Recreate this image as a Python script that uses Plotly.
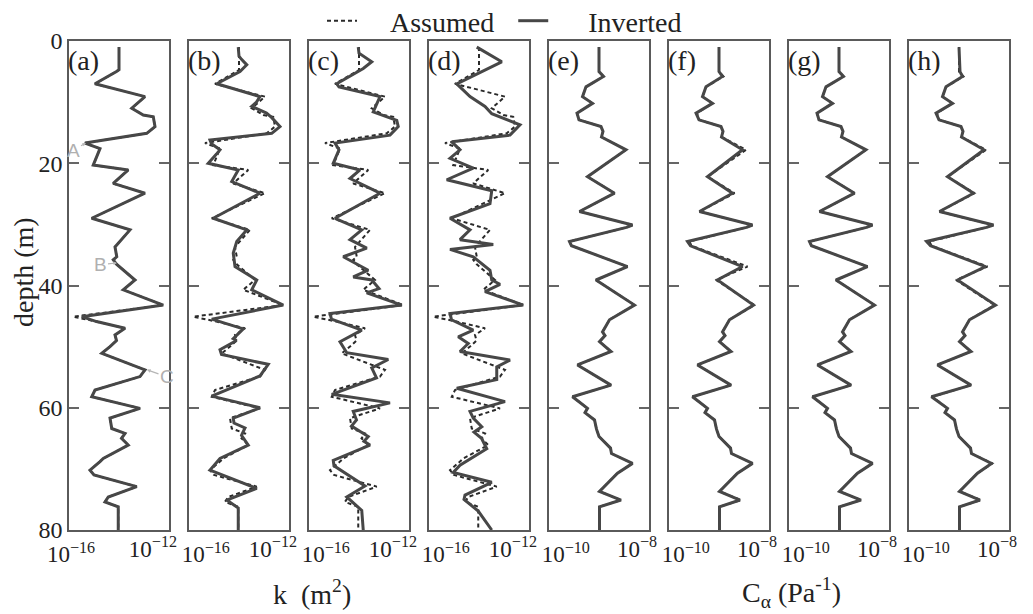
import numpy as np
import plotly.graph_objects as go

# ---------------- data (log10 values) ----------------
# permeability k (m^2): assumed profile (same for panels a-d)
depth_k_assumed = [1.0, 4.7, 5.0, 7.0, 9.1, 11.0, 12.1, 12.4, 14.0, 15.1, 16.7, 17.6, 20.3, 21.1, 23.3, 24.9,
                   29.0, 30.9, 33.7, 35.3, 35.8, 36.5, 39.1, 40.7, 43.2, 45.1, 45.9, 47.0, 48.1, 49.0, 50.0,
                   51.1, 51.4, 53.8, 54.9, 57.1, 58.2, 60.1, 61.7, 63.4, 64.2, 65.0, 66.1, 68.3, 68.8, 70.2,
                   71.0, 72.9, 74.6, 75.4, 76.2, 80.0]
log10_k_assumed = [-14.0, -14.0, -14.1, -14.96, -12.96, -13.49, -13.03, -12.63, -12.56, -12.89, -15.36, -14.76,
                   -15.03, -13.63, -14.23, -12.96, -15.09, -13.56, -14.16, -14.09, -14.23, -14.1, -13.36, -13.83,
                   -12.23, -15.83, -14.9, -13.76, -14.16, -14.1, -14.36, -14.69, -14.5, -12.96, -13.16, -14.96,
                   -15.09, -13.16, -14.36, -14.29, -13.76, -13.9, -13.63, -14.63, -14.76, -15.16, -15.0, -13.29,
                   -14.43, -14.56, -14.03, -14.03]

# inverted k, panel (a)
depth_k_inv_a = depth_k_assumed
log10_k_inv_a = [-14.0, -14.0, -14.1, -14.96, -12.96, -13.49, -13.03, -12.63, -12.56, -12.89, -15.36, -14.76,
                 -15.03, -13.63, -14.23, -12.96, -15.09, -13.56, -14.16, -14.09, -14.23, -14.1, -13.36, -13.83,
                 -12.23, -15.49, -14.9, -13.76, -14.16, -14.1, -14.36, -14.69, -14.5, -12.96, -13.16, -14.96,
                 -15.09, -13.16, -14.36, -14.29, -13.76, -13.9, -13.63, -14.63, -14.76, -15.16, -15.0, -13.29,
                 -14.43, -14.56, -14.03, -14.03]

# inverted k, panel (b)
depth_k_inv_b = [1.0, 2.5, 3.0, 3.9, 5.0, 7.0, 9.1, 10.0, 10.7, 11.8, 12.5, 14.0, 15.1, 16.2, 16.8, 17.8, 18.5,
                 20.0, 21.1, 23.0, 24.9, 29.0, 30.9, 32.8, 34.7, 36.9, 39.1, 40.7, 43.2, 45.5, 47.1, 48.7, 49.0,
                 50.5, 51.3, 52.9, 54.8, 58.1, 60.0, 61.7, 62.5, 63.3, 64.5, 66.1, 68.3, 70.2, 73.2, 75.1, 76.4,
                 80.0]
log10_k_inv_b = [-14.03, -14.0, -13.9, -13.69, -13.96, -14.89, -13.16, -13.3, -13.49, -12.9, -12.7, -12.36,
                 -12.69, -15.16, -15.1, -14.76, -14.9, -15.23, -14.03, -14.29, -13.16, -15.03, -13.69, -14.09,
                 -14.23, -14.16, -13.29, -13.49, -12.23, -15.09, -13.83, -14.23, -14.1, -14.76, -14.7, -12.83,
                 -13.16, -15.09, -13.16, -14.23, -14.2, -13.76, -13.9, -13.63, -14.76, -15.16, -13.29, -14.49,
                 -14.03, -14.03]

# inverted k, panel (c)
depth_k_inv_c = [1.0, 2.0, 3.4, 4.5, 7.0, 7.5, 9.1, 11.6, 13.0, 14.0, 15.4, 16.7, 17.8, 20.0, 21.1, 22.5, 24.9,
                 29.0, 30.9, 32.5, 33.9, 35.3, 37.5, 38.6, 39.1, 40.5, 41.2, 43.2, 44.6, 45.5, 47.3, 49.2, 51.0,
                 52.1, 53.5, 55.1, 57.8, 59.2, 60.6, 62.0, 63.0, 64.7, 65.5, 66.1, 68.6, 69.5, 72.8, 74.6, 76.8,
                 80.0]
log10_k_inv_c = [-14.03, -14.0, -13.49, -13.83, -14.89, -14.8, -13.16, -13.43, -12.49, -12.43, -12.76, -14.96,
                 -14.8, -15.03, -13.96, -14.36, -13.16, -14.96, -13.89, -14.36, -13.69, -14.63, -13.63, -14.23,
                 -13.49, -13.2, -13.69, -12.29, -15.16, -15.1, -13.89, -14.76, -14.49, -12.83, -13.49, -13.3,
                 -15.09, -12.76, -14.23, -14.1, -14.3, -13.63, -13.8, -13.56, -15.03, -15.0, -13.76, -14.49,
                 -13.89, -13.83]

# inverted k, panel (d)
depth_k_inv_d = [1.0, 3.4, 7.0, 9.1, 10.7, 11.9, 13.7, 15.4, 16.5, 17.8, 19.2, 20.8, 22.7, 24.5, 26.6, 29.0,
                 30.9, 32.5, 33.3, 34.1, 35.3, 37.5, 39.1, 39.8, 41.0, 43.2, 44.6, 45.6, 47.3, 48.4, 49.5, 50.8,
                 52.2, 53.3, 55.4, 56.8, 59.0, 60.6, 61.7, 63.1, 64.0, 65.0, 66.7, 69.4, 70.6, 72.2, 74.3, 75.0,
                 76.9, 80.0]
log10_k_inv_d = [-14.09, -13.09, -14.89, -14.36, -13.76, -13.49, -12.36, -12.76, -15.09, -14.76, -15.16, -14.23,
                 -15.29, -13.49, -13.56, -15.16, -14.36, -14.76, -13.43, -15.16, -14.23, -13.56, -13.49, -13.16,
                 -13.76, -12.23, -15.16, -15.1, -14.23, -14.83, -14.43, -14.76, -12.76, -13.29, -13.29, -14.89,
                 -12.96, -14.36, -14.23, -13.89, -14.2, -13.9, -13.69, -14.76, -15.03, -13.49, -14.56, -14.6,
                 -14.03, -13.49]

# compressibility C_alpha (Pa^-1): assumed profile (same for panels e-h)
depth_ca = [1.0, 5.0, 5.8, 7.5, 9.1, 10.2, 11.8, 12.9, 14.0, 14.8, 15.7, 17.8, 22.2, 24.9, 27.9, 30.1, 30.5,
            32.8, 33.5, 36.9, 39.1, 43.2, 45.6, 47.6, 48.2, 49.2, 50.8, 53.0, 56.3, 58.2, 60.1, 60.8, 62.0,
            63.5, 64.7, 66.6, 67.5, 69.1, 70.7, 71.8, 73.7, 75.1, 76.2, 80.0]
log10_ca_assumed = [-9.0, -9.0, -8.91, -9.26, -9.33, -9.13, -9.44, -9.4, -8.96, -8.92, -8.95, -8.46, -9.23,
                    -8.69, -9.39, -8.33, -8.45, -9.59, -9.55, -8.43, -9.06, -8.29, -8.79, -8.93, -8.88, -8.99,
                    -8.76, -9.43, -8.76, -9.53, -9.23, -9.28, -9.09, -9.05, -9.0, -8.77, -8.75, -8.33, -8.63,
                    -8.76, -8.99, -8.56, -8.99, -8.99]
log10_ca_inv_e = log10_ca_assumed
log10_ca_inv_f = [-9.0, -9.0, -8.93, -9.26, -9.33, -9.13, -9.46, -9.4, -8.96, -8.92, -8.95, -8.53, -9.23,
                  -8.73, -9.39, -8.33, -8.45, -9.63, -9.57, -8.53, -9.03, -8.31, -8.79, -8.93, -8.88, -8.99,
                  -8.76, -9.43, -8.76, -9.53, -9.23, -9.28, -9.09, -9.05, -9.0, -8.77, -8.75, -8.33, -8.63,
                  -8.76, -8.99, -8.58, -8.99, -8.99]
log10_ca_inv_g = log10_ca_assumed
log10_ca_inv_h = [-9.0, -8.98, -8.93, -9.26, -9.33, -9.13, -9.46, -9.4, -8.96, -8.92, -8.95, -8.5, -9.23,
                  -8.71, -9.39, -8.31, -8.45, -9.65, -9.57, -8.47, -9.03, -8.27, -8.79, -8.93, -8.88, -8.99,
                  -8.76, -9.43, -8.76, -9.55, -9.23, -9.28, -9.09, -9.05, -9.0, -8.77, -8.75, -8.35, -8.63,
                  -8.76, -8.99, -8.58, -8.99, -8.99]

panel_letters = ["(a)", "(b)", "(c)", "(d)", "(e)", "(f)", "(g)", "(h)"]
k_range_log = [-16, -12]
ca_range_log = [-10, -8]
k_tick_text = ["10<sup>−16</sup>", "10<sup>−12</sup>"]
ca_tick_text = ["10<sup>−10</sup>", "10<sup>−8</sup>"]
depth_ticks = [0, 20, 40, 60, 80]

# ---------------- figure ----------------
OFF = 8                      # page body margin of the html page
W, H = 1033 - OFF, 614 - OFF
FONT = "Liberation Serif"
C_INV = "#474747"
C_ASM = "#2a2a2a"
C_FRAME = "#5a5a5a"


def fx(px):
    return (px - OFF) / W


def fy(py):
    return 1 - (py - OFF) / H


panels = [
    (depth_k_assumed, log10_k_assumed, depth_k_inv_a, log10_k_inv_a, k_range_log, k_tick_text),
    (depth_k_assumed, log10_k_assumed, depth_k_inv_b, log10_k_inv_b, k_range_log, k_tick_text),
    (depth_k_assumed, log10_k_assumed, depth_k_inv_c, log10_k_inv_c, k_range_log, k_tick_text),
    (depth_k_assumed, log10_k_assumed, depth_k_inv_d, log10_k_inv_d, k_range_log, k_tick_text),
    (depth_ca, log10_ca_assumed, depth_ca, log10_ca_inv_e, ca_range_log, ca_tick_text),
    (depth_ca, log10_ca_assumed, depth_ca, log10_ca_inv_f, ca_range_log, ca_tick_text),
    (depth_ca, log10_ca_assumed, depth_ca, log10_ca_inv_g, ca_range_log, ca_tick_text),
    (depth_ca, log10_ca_assumed, depth_ca, log10_ca_inv_h, ca_range_log, ca_tick_text),
]

fig = go.Figure()
layout = {}
annotations = []
y_dom = [fy(530), fy(41)]
tickfont = dict(family=FONT, size=23, color="#222")

for i, (da, va, di, vi, rng, ttext) in enumerate(panels):
    n = i + 1
    sfx = "" if n == 1 else str(n)
    xa, ya = "x" + sfx, "y" + sfx
    xo = "x" + str(n + 8)          # overlay axis carrying the right-hand tick label
    fig.add_trace(go.Scatter(
        x=10 ** np.array(va), y=da, mode="lines", name="\u00a0" * 4 + "Assumed" + "\u00a0" * 2,
        line=dict(color=C_ASM, width=2, dash="4px,3px"),
        xaxis=xa, yaxis=ya, showlegend=(n == 1), legendgroup="asm"))
    fig.add_trace(go.Scatter(
        x=10 ** np.array(vi), y=di, mode="lines", name="\u00a0" * 5 + "Inverted",
        line=dict(color=C_INV, width=3),
        xaxis=xa, yaxis=ya, showlegend=(n == 1), legendgroup="inv"))
    # same inverted profile, fully transparent, so the overlay axis is drawn
    fig.add_trace(go.Scatter(
        x=10 ** np.array(vi), y=di, mode="lines", line=dict(color=C_INV, width=1), opacity=0,
        xaxis=xo, yaxis=ya, showlegend=False, hoverinfo="skip"))

    left = 69 + 120 * i
    dom = [fx(left), fx(left + 100)]
    layout["xaxis" + sfx] = dict(
        type="log", range=rng, domain=dom, anchor=ya, automargin=False,
        showline=True, mirror=True, linecolor=C_FRAME, linewidth=1.5,
        showgrid=False, zeroline=False, ticks="", ticklabeloverflow="allow",
        tickmode="array", tickvals=[10 ** rng[0]], ticktext=[ttext[0]],
        ticklabelposition="outside" if n == 1 else "outside right",
        ticklabelshift=2 if n == 1 else -8, ticklabelstandoff=3,
        tickfont=tickfont)
    layout["xaxis" + str(n + 8)] = dict(
        type="log", range=rng, overlaying=xa, anchor=ya, side="bottom", automargin=False,
        showline=False, showgrid=False, zeroline=False, ticks="", ticklabeloverflow="allow",
        tickmode="array", tickvals=[10 ** rng[1]], ticktext=[ttext[1]],
        ticklabelposition="outside left", ticklabelshift=8, ticklabelstandoff=3,
        tickfont=tickfont)
    layout["yaxis" + sfx] = dict(
        range=[80, 0], domain=y_dom, anchor=xa, automargin=False,
        showline=True, mirror="ticks", linecolor=C_FRAME, linewidth=1.5,
        showgrid=False, zeroline=False, ticklabeloverflow="allow",
        ticks="inside", ticklen=10, tickwidth=1.5, tickcolor="#666",
        tickmode="array", tickvals=depth_ticks,
        showticklabels=(n == 1), tickfont=dict(family=FONT, size=24, color="#222"))
    annotations.append(dict(
        text=panel_letters[i], xref=xa + " domain", yref=ya + " domain",
        x=0, y=1, xanchor="left", yanchor="top", xshift=-3, yshift=-2,
        showarrow=False, font=dict(family=FONT, size=28, color="#222")))

# A, B, C markers in panel (a)
for txt, hx, hy, ax, ay in [("A", -15.32, 16.7, -13, 7), ("B", -14.08, 36.3, -17, 2), ("C", -12.88, 53.8, 20, 7)]:
    annotations.append(dict(
        text=txt, xref="x", yref="y", x=hx, y=hy, ax=ax, ay=ay, axref="pixel", ayref="pixel",
        showarrow=True, arrowhead=2, arrowsize=0.6, arrowwidth=1.2, arrowcolor="#b5b5b5",
        font=dict(family="Liberation Sans", size=19, color="#b0b0b0")))

# axis titles
annotations.append(dict(text="depth (m)", xref="paper", yref="paper", x=fx(24), y=fy(272),
                        textangle=-90, showarrow=False, xanchor="center", yanchor="middle",
                        font=dict(family=FONT, size=28, color="#222")))
annotations.append(dict(text="k\u00a0 (m<sup>2</sup>)", xref="paper", yref="paper", x=fx(312), y=fy(592),
                        showarrow=False, xanchor="center", yanchor="middle",
                        font=dict(family=FONT, size=28, color="#222")))
annotations.append(dict(text="C<sub>α</sub> (Pa<sup>-1</sup>)", xref="paper", yref="paper", x=fx(791),
                        y=fy(592), showarrow=False, xanchor="center", yanchor="middle",
                        font=dict(family=FONT, size=28, color="#222")))

fig.update_layout(
    **layout,
    annotations=annotations,
    width=W, height=H,
    margin=dict(l=0, r=0, t=0, b=0, autoexpand=False),
    paper_bgcolor="white", plot_bgcolor="white",
    hovermode=False,
    showlegend=True,
    legend=dict(orientation="h", x=fx(322), xanchor="left", y=1 + 12 / H, yanchor="top",
                font=dict(family=FONT, size=28, color="#222"), bgcolor="rgba(0,0,0,0)"),
)

fig.write_html("out.html")
